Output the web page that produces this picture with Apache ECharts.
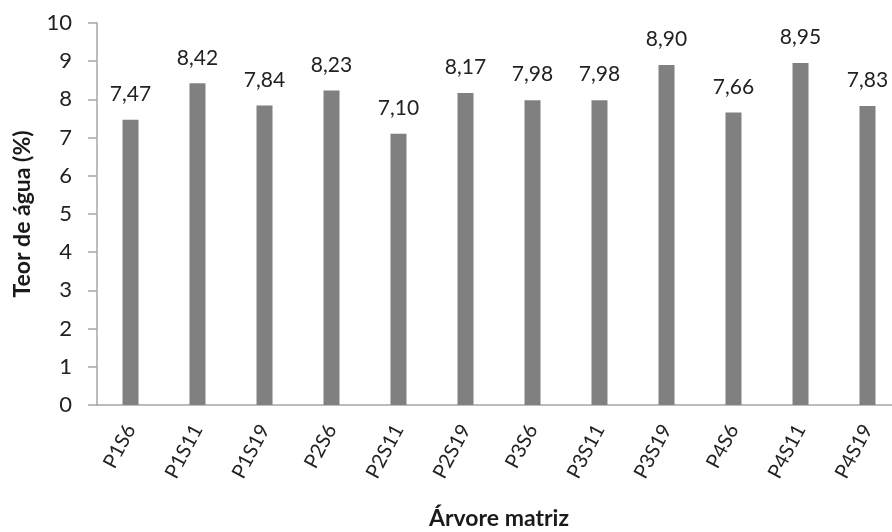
<!DOCTYPE html>
<html>
<head>
<meta charset="utf-8">
<script src="https://cdn.jsdelivr.net/npm/echarts@6/dist/echarts.min.js"></script>
<style>
  html, body { margin: 0; padding: 0; background: #fff; }
  #chart { width: 892px; height: 532px; }
</style>
</head>
<body>
<div id="chart"></div>
<script>
// Water content per mother tree
const categories = ['P1S6', 'P1S11', 'P1S19', 'P2S6', 'P2S11', 'P2S19', 'P3S6', 'P3S11', 'P3S19', 'P4S6', 'P4S11', 'P4S19'];
const teorAgua = [7.47, 8.42, 7.84, 8.23, 7.10, 8.17, 7.98, 7.98, 8.90, 7.66, 8.95, 7.83];
const yTicks = [0, 1, 2, 3, 4, 5, 6, 7, 8, 9, 10];

const font = 'Lato, Open Sans, sans-serif';
const chart = echarts.init(document.getElementById('chart'));
chart.setOption({
  animation: false,
  grid: { left: 97, top: 23, width: 804, height: 382, containLabel: false, outerBoundsMode: 'none' },
  xAxis: {
    type: 'category',
    data: categories,
    name: 'Árvore matriz',
    nameLocation: 'middle',
    nameGap: 102,
    nameTextStyle: { fontFamily: font, fontWeight: 'bold', fontSize: 23, color: '#1a1a1a' },
    axisLine: { lineStyle: { color: '#a6a6a6', width: 1.5 } },
    axisTick: { show: false },
    axisLabel: { rotate: 62, fontFamily: font, fontSize: 20, color: '#222', margin: 21 }
  },
  yAxis: {
    type: 'value',
    min: yTicks[0],
    max: yTicks[yTicks.length - 1],
    interval: 1,
    name: 'Teor de água (%)',
    nameLocation: 'middle',
    nameGap: 63,
    nameRotate: 90,
    nameTextStyle: { fontFamily: font, fontWeight: 'bold', fontSize: 23, color: '#1a1a1a' },
    splitLine: { show: false },
    axisLine: { show: true, lineStyle: { color: '#a6a6a6', width: 1.5 } },
    axisTick: { show: true, length: 9, lineStyle: { color: '#a6a6a6', width: 1.5 } },
    axisLabel: { fontFamily: font, fontSize: 22, color: '#222', margin: 25 }
  },
  series: [{
    type: 'bar',
    data: teorAgua,
    barWidth: 16,
    itemStyle: { color: '#808080' },
    label: {
      show: true,
      position: 'top',
      distance: 15,
      fontFamily: font,
      fontSize: 21,
      color: '#222',
      formatter: p => p.value.toFixed(2).replace('.', ',')
    }
  }]
});
</script>
</body>
</html>
